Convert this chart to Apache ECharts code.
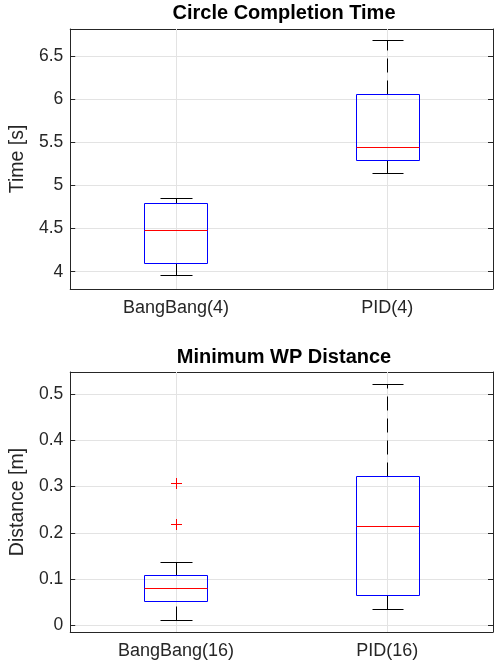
<!DOCTYPE html>
<html>
<head>
<meta charset="utf-8">
<script src="https://cdn.jsdelivr.net/npm/echarts@6/dist/echarts.min.js"></script>
<style>
html,body{margin:0;padding:0;background:#fff;}
#chart{width:494px;height:669px;}
</style>
</head>
<body>
<div id="chart"></div>
<script>
// ---- data (min, q1, median, q3, max) ----
const timeCategories = ['BangBang(4)', 'PID(4)'];
const timeBangBang = [3.96, 4.10, 4.486, 4.795, 4.856];
const timePID = [5.142, 5.293, 5.443, 6.056, 6.677];
const timeTicks = [4, 4.5, 5, 5.5, 6, 6.5];
const timeRange = [3.8, 6.81];

const distCategories = ['BangBang(16)', 'PID(16)'];
const distBangBang = [0.0115, 0.0518, 0.0813, 0.1086, 0.136];
const distPID = [0.0345, 0.0662, 0.2152, 0.3223, 0.5216];
const distBangBangOutliers = [0.220, 0.307];
const distTicks = [0, 0.1, 0.2, 0.3, 0.4, 0.5];
const distRange = [-0.0145, 0.5475];

// ---- styling ----
const FONT = '"Liberation Sans", Arial, Helvetica, sans-serif';
const TXT = '#262626';
const GRIDC = '#e3e3e3';

const snap = v => Math.round(v) + 0.5;

function boxRender(params, api) {
  const cat = api.value(0);
  const cx = api.coord([cat, api.value(3)])[0];
  const yMin = snap(api.coord([cat, api.value(1)])[1]);
  const yQ1 = snap(api.coord([cat, api.value(2)])[1]);
  const yMed = snap(api.coord([cat, api.value(3)])[1]);
  const yQ3 = snap(api.coord([cat, api.value(4)])[1]);
  const yMax = snap(api.coord([cat, api.value(5)])[1]);
  const bw = api.size([1, 0])[0] * 0.298;
  const cs = params.coordSys;
  const x = snap(cx);
  const l = snap(cx - bw / 2), r = snap(cx + bw / 2);
  const cl = snap(cx - bw / 4), cr = snap(cx + bw / 4);
  const children = [
    { type: 'line', shape: { x1: x, y1: cs.y, x2: x, y2: cs.y + cs.height }, style: { stroke: GRIDC, lineWidth: 1 } },
    { type: 'line', shape: { x1: x, y1: yQ3, x2: x, y2: yMax }, style: { stroke: '#000', lineWidth: 1, lineDash: [14, 8] } },
    { type: 'line', shape: { x1: x, y1: yMin, x2: x, y2: yQ1 }, style: { stroke: '#000', lineWidth: 1, lineDash: [14, 8] } },
    { type: 'line', shape: { x1: cl, y1: yMax, x2: cr, y2: yMax }, style: { stroke: '#000', lineWidth: 1 } },
    { type: 'line', shape: { x1: cl, y1: yMin, x2: cr, y2: yMin }, style: { stroke: '#000', lineWidth: 1 } },
    { type: 'polygon', shape: { points: [[l, yQ3], [r, yQ3], [r, yQ1], [l, yQ1]] }, style: { fill: null, stroke: '#0000ff', lineWidth: 1 } },
    { type: 'line', shape: { x1: l, y1: yMed, x2: r, y2: yMed }, style: { stroke: '#ff0000', lineWidth: 1 } }
  ];
  return { type: 'group', children };
}

function plusRender(params, api) {
  const p = api.coord([api.value(0), api.value(1)]);
  const x = snap(p[0]), y = snap(p[1]), h = 5.5;
  return {
    type: 'group',
    children: [
      { type: 'line', shape: { x1: x - h, y1: y, x2: x + h, y2: y }, style: { stroke: '#ff0000', lineWidth: 1 } },
      { type: 'line', shape: { x1: x, y1: y - h, x2: x, y2: y + h }, style: { stroke: '#ff0000', lineWidth: 1 } }
    ]
  };
}

function tickFormatter(ticks) {
  return function (v) {
    for (const t of ticks) if (Math.abs(v - t) < 1e-9) return String(t);
    return '';
  };
}

const axisLine = { show: true, onZero: false, lineStyle: { color: TXT, width: 1 } };

function makeX(gridIndex, cats, bottom) {
  return {
    type: 'category', gridIndex, data: cats, position: bottom ? 'bottom' : 'top',
    boundaryGap: true,
    axisLine,
    axisTick: { show: true, inside: true, alignWithLabel: true, length: 5, lineStyle: { color: TXT } },
    axisLabel: { show: bottom, color: TXT, fontFamily: FONT, fontSize: 18, margin: 10 },
    splitLine: { show: false }
  };
}
function makeY(gridIndex, range, ticks, name, left) {
  return {
    type: 'value', gridIndex, min: range[0], max: range[1], position: left ? 'left' : 'right',
    name: left ? name : '', nameLocation: 'middle', nameGap: 38,
    nameTextStyle: { color: TXT, fontFamily: FONT, fontSize: 19.5 },
    axisLine,
    axisTick: { show: true, inside: true, length: 5, lineStyle: { color: TXT } },
    axisLabel: { show: left, color: TXT, fontFamily: FONT, fontSize: 17.5, margin: 7, formatter: tickFormatter(ticks) },
    splitLine: { show: left, lineStyle: { color: GRIDC, width: 1 } }
  };
}

const chart = echarts.init(document.getElementById('chart'), null, { renderer: 'canvas' });
chart.setOption({
  animation: false,
  backgroundColor: '#fff',
  title: [
    { text: 'Circle Completion Time', left: 279, textAlign: 'center', top: -2,
      textStyle: { fontFamily: FONT, fontSize: 20, fontWeight: 'bold', color: '#000' } },
    { text: 'Minimum WP Distance', left: 279, textAlign: 'center', top: 342,
      textStyle: { fontFamily: FONT, fontSize: 20, fontWeight: 'bold', color: '#000' } }
  ],
  grid: [
    { left: 64, right: 1, top: 29, height: 260 },
    { left: 64, right: 1, top: 372, height: 260 }
  ],
  xAxis: [
    makeX(0, timeCategories, true), makeX(0, timeCategories, false),
    makeX(1, distCategories, true), makeX(1, distCategories, false)
  ],
  yAxis: [
    makeY(0, timeRange, timeTicks, 'Time [s]', true), makeY(0, timeRange, timeTicks, '', false),
    makeY(1, distRange, distTicks, 'Distance [m]', true), makeY(1, distRange, distTicks, '', false)
  ],
  series: [
    { type: 'custom', xAxisIndex: 0, yAxisIndex: 0, renderItem: boxRender,
      encode: { x: 0, y: [1, 2, 3, 4, 5] },
      data: [[0, ...timeBangBang], [1, ...timePID]] },
    { type: 'custom', xAxisIndex: 2, yAxisIndex: 2, renderItem: boxRender,
      encode: { x: 0, y: [1, 2, 3, 4, 5] },
      data: [[0, ...distBangBang], [1, ...distPID]] },
    { type: 'custom', xAxisIndex: 2, yAxisIndex: 2, renderItem: plusRender,
      encode: { x: 0, y: 1 },
      data: distBangBangOutliers.map(v => [0, v]) }
  ]
});
</script>
</body>
</html>
